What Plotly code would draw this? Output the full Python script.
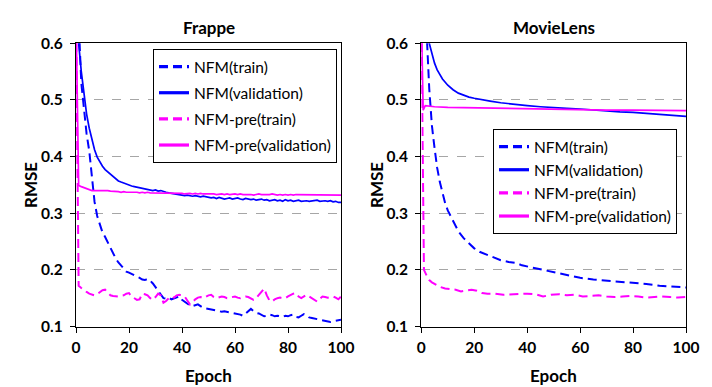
import plotly.graph_objects as go

# ---------------- data ----------------
EPOCHS = list(range(0, 101))

frappe_nfm_train = [
    0.80, 0.64, 0.53, 0.48, 0.44, 0.41, 0.37, 0.32, 0.295, 0.28,
    0.266, 0.258, 0.248, 0.237, 0.228, 0.220, 0.213, 0.207, 0.201, 0.197,
    0.195, 0.193, 0.190, 0.188, 0.186, 0.183, 0.182, 0.184, 0.181, 0.176,
    0.170, 0.162, 0.157, 0.150, 0.149, 0.151, 0.148, 0.150, 0.152, 0.153,
    0.147, 0.144, 0.140, 0.137, 0.136, 0.138, 0.139, 0.136, 0.133, 0.132,
    0.131, 0.130, 0.129, 0.129, 0.128, 0.126, 0.127, 0.126, 0.125, 0.125,
    0.124, 0.123, 0.121, 0.119, 0.123, 0.128, 0.131, 0.127, 0.124, 0.123,
    0.120, 0.118, 0.119, 0.121, 0.120, 0.118, 0.119, 0.118, 0.117, 0.119,
    0.118, 0.120, 0.121, 0.117, 0.116, 0.119, 0.122, 0.120, 0.116, 0.115,
    0.114, 0.112, 0.111, 0.110, 0.109, 0.108, 0.108, 0.109, 0.110, 0.111,
    0.112]

frappe_nfm_val = [
    0.75, 0.60, 0.55, 0.51, 0.475, 0.45, 0.428, 0.412, 0.399, 0.390,
    0.383, 0.377, 0.373, 0.370, 0.366, 0.361, 0.357, 0.355, 0.353, 0.351,
    0.350, 0.348, 0.347, 0.346, 0.345, 0.345, 0.344, 0.343, 0.342, 0.340,
    0.341, 0.339, 0.340, 0.338, 0.337, 0.336, 0.335, 0.334, 0.333, 0.332,
    0.332, 0.331, 0.332, 0.331, 0.330, 0.331, 0.330, 0.329, 0.330, 0.329,
    0.328, 0.327, 0.328, 0.326, 0.328, 0.326, 0.325, 0.326, 0.327, 0.325,
    0.326, 0.327, 0.325, 0.324, 0.326, 0.325, 0.324, 0.325, 0.323, 0.324,
    0.325, 0.323, 0.324, 0.322, 0.323, 0.324, 0.322, 0.323, 0.321, 0.324,
    0.322, 0.323, 0.321, 0.322, 0.323, 0.321, 0.322, 0.322, 0.321, 0.322,
    0.322, 0.323, 0.321, 0.322, 0.322, 0.321, 0.322, 0.320, 0.321, 0.319,
    0.319]

frappe_pre_train = [
    0.65, 0.172, 0.168, 0.164, 0.161, 0.158, 0.156, 0.155, 0.157, 0.160,
    0.164, 0.165, 0.159, 0.155, 0.154, 0.153, 0.153, 0.154, 0.155, 0.158,
    0.159, 0.153, 0.150, 0.147, 0.148, 0.158, 0.157, 0.155, 0.150, 0.147,
    0.152, 0.158, 0.155, 0.142, 0.145, 0.150, 0.153, 0.151, 0.155, 0.156,
    0.155, 0.153, 0.146, 0.139, 0.143, 0.148, 0.151, 0.152, 0.150, 0.153,
    0.155, 0.156, 0.152, 0.150, 0.151, 0.153, 0.152, 0.150, 0.151, 0.152,
    0.153, 0.151, 0.150, 0.152, 0.153, 0.152, 0.149, 0.147, 0.150, 0.156,
    0.162, 0.167, 0.155, 0.146, 0.144, 0.148, 0.150, 0.151, 0.150, 0.150,
    0.153, 0.156, 0.158, 0.159, 0.153, 0.150, 0.153, 0.156, 0.153, 0.150,
    0.146, 0.144, 0.149, 0.153, 0.152, 0.151, 0.152, 0.153, 0.151, 0.148,
    0.153]

frappe_pre_val = [
    0.65, 0.349, 0.347, 0.345, 0.343, 0.341, 0.340, 0.340, 0.340, 0.341,
    0.340, 0.341, 0.340, 0.339, 0.339, 0.338, 0.338, 0.337, 0.338, 0.337,
    0.337, 0.337, 0.338, 0.337, 0.336, 0.337, 0.336, 0.337, 0.336, 0.336,
    0.336, 0.335, 0.336, 0.336, 0.335, 0.336, 0.335, 0.335, 0.336, 0.335,
    0.335, 0.334, 0.335, 0.335, 0.334, 0.335, 0.334, 0.335, 0.334, 0.334,
    0.335, 0.334, 0.334, 0.333, 0.334, 0.334, 0.333, 0.334, 0.333, 0.334,
    0.334, 0.333, 0.334, 0.333, 0.333, 0.334, 0.333, 0.332, 0.333, 0.334,
    0.333, 0.333, 0.332, 0.333, 0.334, 0.333, 0.332, 0.333, 0.332, 0.333,
    0.332, 0.333, 0.332, 0.333, 0.333, 0.332, 0.333, 0.332, 0.332, 0.333,
    0.332, 0.333, 0.332, 0.332, 0.333, 0.332, 0.332, 0.333, 0.332, 0.332,
    0.332]

ml_nfm_train_x = [0, 1, 2, 3, 4, 5, 6, 7, 8, 9, 10, 12, 14, 16, 18, 20, 22, 25, 28, 30,
                  33, 36, 38, 40, 43, 46, 50, 55, 60, 65, 70, 75, 80, 85, 90, 95, 100]
ml_nfm_train = [0.90, 0.75, 0.62, 0.52, 0.455, 0.415, 0.38, 0.355, 0.335, 0.318, 0.305,
                0.285, 0.268, 0.256, 0.247, 0.238, 0.232, 0.226, 0.220, 0.217,
                0.214, 0.212, 0.208, 0.206, 0.203, 0.199, 0.195, 0.190, 0.186, 0.183,
                0.181, 0.179, 0.178, 0.175, 0.172, 0.171, 0.169]

ml_nfm_val_x = [0, 1, 2, 3, 4, 5, 6, 7, 8, 10, 12, 14, 16, 18, 20, 23, 26, 30, 35, 40,
                45, 50, 55, 60, 65, 70, 75, 80, 85, 90, 95, 100]
ml_nfm_val = [0.78, 0.70, 0.64, 0.60, 0.58, 0.565, 0.553, 0.544, 0.537, 0.526, 0.518,
              0.512, 0.508, 0.505, 0.503, 0.500, 0.498, 0.495, 0.492, 0.490, 0.488,
              0.486, 0.485, 0.484, 0.482, 0.481, 0.479, 0.478, 0.476, 0.475, 0.473, 0.471]

ml_pre_train_x = [0, 1, 2, 3, 4, 5, 7, 9, 11, 13, 15, 17, 19, 21, 23, 25, 28, 31, 34, 37,
                  40, 43, 46, 49, 52, 55, 58, 61, 64, 67, 70, 73, 76, 79, 82, 85, 88, 91,
                  94, 97, 100]
ml_pre_train = [0.65, 0.200, 0.190, 0.182, 0.178, 0.175, 0.170, 0.167, 0.166, 0.165,
                0.162, 0.163, 0.165, 0.163, 0.159, 0.158, 0.158, 0.156, 0.157, 0.158,
                0.158, 0.157, 0.153, 0.156, 0.157, 0.155, 0.156, 0.153, 0.154, 0.155,
                0.153, 0.152, 0.153, 0.154, 0.153, 0.151, 0.152, 0.153, 0.152, 0.151,
                0.152]

ml_pre_val_x = [0, 0.7, 1.5, 3, 5, 10, 20, 30, 40, 50, 60, 70, 80, 90, 100]
ml_pre_val = [0.65, 0.482, 0.490, 0.489, 0.488, 0.487, 0.486, 0.485, 0.484, 0.484,
              0.483, 0.482, 0.482, 0.481, 0.481]

series_names = ["NFM(train)", "NFM(validation)", "NFM-pre(train)", "NFM-pre(validation)"]
x_ticks = [0, 20, 40, 60, 80, 100]
y_ticks = [0.1, 0.2, 0.3, 0.4, 0.5, 0.6]
panel_titles = ["Frappe", "MovieLens"]

# ---------------- style ----------------
BLUE = "#0000FF"
MAG = "#FF00FF"
DASH = "9px,5px"
FONT = "Lato"

styles = [
    dict(color=BLUE, dash=DASH),
    dict(color=BLUE, dash="solid"),
    dict(color=MAG, dash=DASH),
    dict(color=MAG, dash="solid"),
]

fig = go.Figure()

panels = [
    ("x", "y", "legend",
     [(EPOCHS, frappe_nfm_train), (EPOCHS, frappe_nfm_val),
      (EPOCHS, frappe_pre_train), (EPOCHS, frappe_pre_val)]),
    ("x2", "y2", "legend2",
     [(ml_nfm_train_x, ml_nfm_train), (ml_nfm_val_x, ml_nfm_val),
      (ml_pre_train_x, ml_pre_train), (ml_pre_val_x, ml_pre_val)]),
]

for p, (xa, ya, leg, data) in enumerate(panels):
    for i, (xs, ys) in enumerate(data):
        st = styles[i]
        fig.add_trace(go.Scatter(
            x=xs, y=ys, mode="lines", xaxis=xa, yaxis=ya,
            line=dict(color=st["color"], dash=st["dash"], width=2 if st["dash"] != "solid" else 1.7),
            showlegend=False, hoverinfo="skip"))
    for i, name in enumerate(series_names):
        st = styles[i]
        fig.add_trace(go.Scatter(
            x=[None], y=[None], mode="lines", xaxis=xa, yaxis=ya, name=name,
            legend=leg, legendgroup=f"{leg}_{i}",
            line=dict(color=st["color"], dash=st["dash"], width=3.2),
            showlegend=True))

W, H = 712, 387
def px_x(v):
    return v / W
def px_y(v):
    return (H - v) / H

axis_common = dict(
    showline=True, mirror=True, linecolor="black", linewidth=1.3,
    ticks="outside", ticklen=5, tickwidth=1.3, tickcolor="black",
    zeroline=False, automargin=False,
    tickfont=dict(family=FONT, size=15.5, color="black", weight="bold"),
)

fig.update_layout(
    width=W, height=H,
    margin=dict(l=0, r=0, t=0, b=0, pad=0, autoexpand=False),
    paper_bgcolor="white", plot_bgcolor="white",
    font=dict(family=FONT, color="black"),
    xaxis=dict(domain=[px_x(76), px_x(341)], range=[0, 100], tickvals=x_ticks,
               showgrid=False, anchor="y", ticklabelstandoff=2, **axis_common),
    yaxis=dict(domain=[px_y(326.5), px_y(43.3)], range=[0.1, 0.6], tickvals=y_ticks,
               tickformat=".1f", showgrid=True, gridcolor="#A6A6A6", gridwidth=1,
               griddash="dash", anchor="x", ticklabelstandoff=4, **axis_common),
    xaxis2=dict(domain=[px_x(421.3), px_x(686)], range=[0, 100], tickvals=x_ticks,
                showgrid=False, anchor="y2", ticklabelstandoff=2, **axis_common),
    yaxis2=dict(domain=[px_y(326.5), px_y(43.3)], range=[0.1, 0.6], tickvals=y_ticks,
                tickformat=".1f", showgrid=True, gridcolor="#A6A6A6", gridwidth=1,
                griddash="dash", anchor="x2", ticklabelstandoff=4, **axis_common),
    legend=dict(x=px_x(153), y=px_y(49), xanchor="left", yanchor="top",
                bgcolor="white", bordercolor="black", borderwidth=1,
                font=dict(family=FONT, size=15.5, color="black"),
                tracegroupgap=3, traceorder="grouped"),
    legend2=dict(x=px_x(493), y=px_y(129), xanchor="left", yanchor="top",
                 bgcolor="white", bordercolor="black", borderwidth=1,
                 font=dict(family=FONT, size=15.5, color="black"),
                 tracegroupgap=0, traceorder="grouped"),
)

annotations = []
centers = [(76 + 341) / 2, (421.3 + 686) / 2]
rmse_x = [30, 376]
for p in range(2):
    annotations.append(dict(text=panel_titles[p], x=px_x(centers[p]), y=px_y(27),
                            xref="paper", yref="paper", showarrow=False,
                            xanchor="center", yanchor="middle",
                            font=dict(family=FONT, size=17, color="black", weight="bold")))
    annotations.append(dict(text="Epoch", x=px_x(centers[p]), y=px_y(375),
                            xref="paper", yref="paper", showarrow=False,
                            xanchor="center", yanchor="middle",
                            font=dict(family=FONT, size=17, color="black", weight="bold")))
    annotations.append(dict(text="RMSE", x=px_x(rmse_x[p]), y=px_y(185), textangle=-90,
                            xref="paper", yref="paper", showarrow=False,
                            xanchor="center", yanchor="middle",
                            font=dict(family=FONT, size=17, color="black", weight="bold")))
fig.update_layout(annotations=annotations)

fig.write_html("out.html",
               config={"displayModeBar": False},
               post_script="document.body.style.margin='0px';document.body.style.overflow='hidden';")
